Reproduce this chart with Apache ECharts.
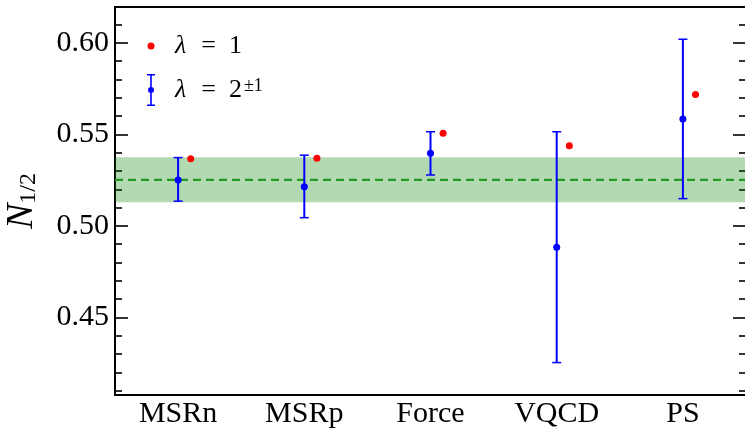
<!DOCTYPE html>
<html>
<head>
<meta charset="utf-8">
<script src="https://cdn.jsdelivr.net/npm/echarts@6/dist/echarts.min.js"></script>
<style>
  html, body { margin: 0; padding: 0; background: #fff; }
  #chart { width: 745px; height: 428px; }
</style>
</head>
<body>
<div id="chart"></div>
<script>
// categories on the x axis
const categories = ['MSRn', 'MSRp', 'Force', 'VQCD', 'PS'];
// lambda = 1 (red points)
const lam1 = [0.5367, 0.5369, 0.5506, 0.5438, 0.5718];
// lambda = 2^{+-1} central values and error bar ends (blue)
const lam2 = [0.5251, 0.5214, 0.5397, 0.4884, 0.5584];
const lam2Low = [0.5135, 0.5045, 0.5278, 0.4254, 0.5149];
const lam2High = [0.5373, 0.5386, 0.5514, 0.5514, 0.6019];
// combined band
const bandLow = 0.5129;
const bandMid = 0.5251;
const bandHigh = 0.5375;
// y tick labels
const yMajor = [0.45, 0.50, 0.55, 0.60];
const yMinor = [0.41, 0.42, 0.43, 0.44, 0.46, 0.47, 0.48, 0.49, 0.51, 0.52, 0.53, 0.54, 0.56, 0.57, 0.58, 0.59, 0.61];

const FONT = 'Liberation Serif';
const X_MIN = -0.5, X_MAX = 4.5;
const Y_MIN = 0.4077, Y_MAX = 0.6195;
const NB = '\u00a0';

const chart = echarts.init(document.getElementById('chart'));

function yAx(position, values, len, showLabel, extra) {
  return Object.assign({
    type: 'value',
    position: position,
    min: Y_MIN,
    max: Y_MAX,
    axisLine: { show: false, onZero: false },
    axisTick: { show: true, inside: true, length: len, customValues: values, lineStyle: { color: '#000', width: 1.6 } },
    axisLabel: { show: showLabel, customValues: values, margin: 6, color: '#000', fontFamily: FONT, fontSize: 30,
      formatter: v => v.toFixed(2) },
    splitLine: { show: false }
  }, extra || {});
}

const dotIcon = 'path://M0,0L0,0M24,32L24,32M1.5,16a3.5,3.5 0 1,1 7,0a3.5,3.5 0 1,1 -7,0z';
const barIcon = 'path://M0,0L0,0M24,32L24,32M1,0h8v1.5h-8zM4.2,0h1.6v32h-1.6zM1,30.5h8v1.5h-8zM2,16a3,3 0 1,1 6,0a3,3 0 1,1 -6,0z';

const option = {
  animation: false,
  grid: { left: 115, top: 7, right: -1, bottom: 33, outerBoundsMode: 'none', containLabel: false,
    show: true, borderColor: '#000', borderWidth: 2, backgroundColor: 'transparent' },
  legend: {
    left: 146,
    top: 30,
    orient: 'vertical',
    padding: 0,
    itemGap: 12,
    itemWidth: 24,
    itemHeight: 32,
    data: [
      { name: 'lam1', icon: dotIcon },
      { name: 'lam2', icon: barIcon }
    ],
    formatter: name => name === 'lam1'
      ? '{i|λ}{t|' + NB + NB + '=' + NB + NB + '1}'
      : '{i|λ}{t|' + NB + NB + '=' + NB + NB + '2}{p|±1}',
    textStyle: {
      fontFamily: FONT,
      fontSize: 26,
      color: '#000',
      rich: {
        i: { fontFamily: FONT, fontSize: 26, fontStyle: 'italic', color: '#000', verticalAlign: 'bottom', padding: [0, 2, 0, 0] },
        t: { fontFamily: FONT, fontSize: 26, color: '#000', verticalAlign: 'bottom' },
        p: { fontFamily: FONT, fontSize: 18, color: '#000', verticalAlign: 'top', padding: [0, 0, 4, 2] }
      }
    }
  },
  xAxis: {
    type: 'value',
    min: X_MIN,
    max: X_MAX,
    axisLine: { show: true, onZero: false, lineStyle: { color: '#000', width: 2 } },
    axisTick: { show: false },
    axisLabel: { customValues: [0, 1, 2, 3, 4], margin: 4, color: '#000', fontFamily: FONT, fontSize: 30,
      formatter: v => categories[Math.round(v)] },
    splitLine: { show: false }
  },
  yAxis: [
    yAx('left', yMajor, 13, true, {
      axisLine: { show: true, onZero: false, lineStyle: { color: '#000', width: 2 } },
      name: '{n|N}{s|1/2}',
      nameLocation: 'middle',
      nameRotate: 90,
      nameGap: 74,
      nameTextStyle: {
        rich: {
          n: { fontFamily: FONT, fontStyle: 'italic', fontSize: 38, color: '#000', verticalAlign: 'top', lineHeight: 38 },
          s: { fontFamily: FONT, fontSize: 24, color: '#000', verticalAlign: 'bottom', lineHeight: 24, padding: [18, 0, 0, 0] }
        }
      }
    }),
    yAx('left', yMinor, 7, false),
    yAx('right', yMajor, 13, false),
    yAx('right', yMinor, 7, false)
  ],
  series: [
    {
      name: 'band',
      type: 'line',
      data: [],
      z: 1,
      markArea: {
        silent: true,
        itemStyle: { color: 'rgba(0,128,0,0.3)' },
        data: [[{ yAxis: bandLow }, { yAxis: bandHigh }]]
      }
    },
    {
      name: 'bandMid',
      type: 'line',
      z: 2,
      symbol: 'none',
      silent: true,
      lineStyle: { color: '#239b23', width: 2.2, type: [8, 5] },
      data: [[X_MIN, bandMid], [X_MAX, bandMid]]
    },
    {
      name: 'errbars',
      type: 'custom',
      z: 3,
      data: categories.map((c, i) => [i, lam2Low[i], lam2High[i]]),
      renderItem: function (params, api) {
        const lo = api.coord([api.value(0), api.value(1)]);
        const hi = api.coord([api.value(0), api.value(2)]);
        const w = 4.5;
        const st = { stroke: '#0000ff', lineWidth: 2 };
        return {
          type: 'group',
          children: [
            { type: 'line', shape: { x1: lo[0], y1: lo[1], x2: hi[0], y2: hi[1] }, style: st },
            { type: 'line', shape: { x1: lo[0] - w, y1: lo[1], x2: lo[0] + w, y2: lo[1] }, style: { stroke: '#0000ff', lineWidth: 1.5 } },
            { type: 'line', shape: { x1: hi[0] - w, y1: hi[1], x2: hi[0] + w, y2: hi[1] }, style: { stroke: '#0000ff', lineWidth: 1.5 } }
          ]
        };
      }
    },
    {
      name: 'lam2',
      type: 'scatter',
      z: 4,
      symbol: 'circle',
      symbolSize: 7,
      itemStyle: { color: '#0000ff', opacity: 1 },
      data: lam2.map((v, i) => [i, v])
    },
    {
      name: 'lam1',
      type: 'scatter',
      z: 4,
      symbol: 'circle',
      symbolSize: 7,
      itemStyle: { color: '#ff0000', opacity: 1 },
      data: lam1.map((v, i) => [i + 0.1, v])
    }
  ]
};

chart.setOption(option);
</script>
</body>
</html>
